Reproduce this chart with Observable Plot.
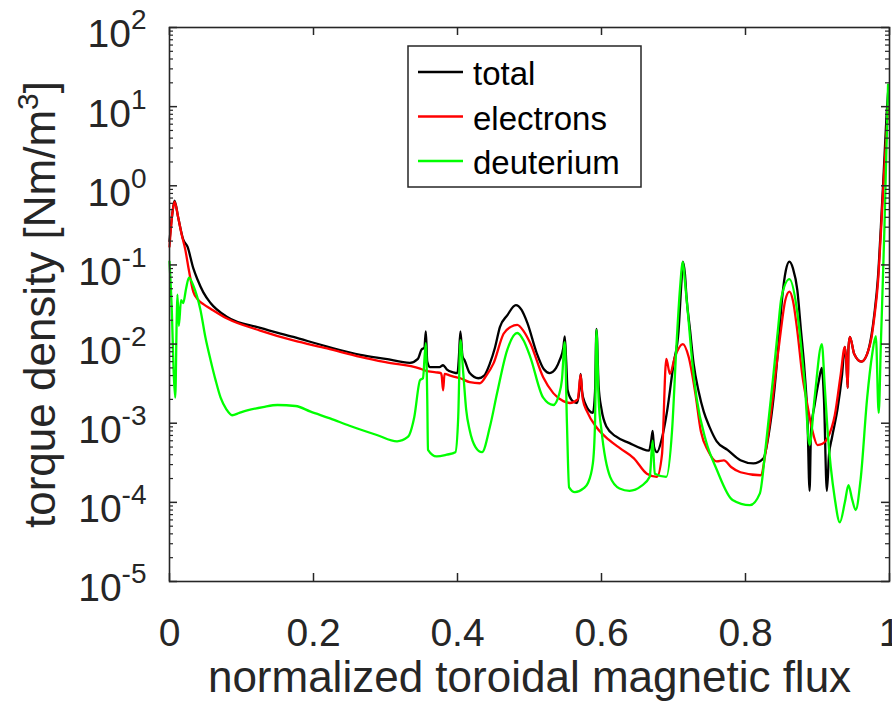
<!DOCTYPE html>
<html>
<head>
<meta charset="utf-8">
<script src="https://cdn.jsdelivr.net/npm/d3@7"></script>
<script src="https://cdn.jsdelivr.net/npm/@observablehq/plot@0.6"></script>
<style>
  html, body { margin: 0; padding: 0; background: #fff; }
  #chart { width: 892px; height: 702px; }
</style>
</head>
<body>
<div id="chart"></div>
<script>
// ---- data ----
const totalPsi = [0,0.004,0.007,0.012,0.019,0.025,0.033,0.039,0.047,0.057,0.08,0.126,0.172,0.219,0.265,0.3,0.334,0.345,0.35,0.354,0.356,0.358,0.362,0.375,0.38,0.385,0.394,0.4,0.402,0.404,0.407,0.41,0.417,0.429,0.437,0.445,0.452,0.459,0.469,0.481,0.489,0.497,0.51,0.52,0.528,0.537,0.542,0.547,0.549,0.551,0.553,0.56,0.566,0.569,0.571,0.573,0.577,0.588,0.591,0.593,0.596,0.6,0.607,0.62,0.639,0.655,0.666,0.669,0.671,0.673,0.677,0.684,0.691,0.7,0.707,0.711,0.713,0.716,0.718,0.723,0.728,0.735,0.742,0.75,0.76,0.775,0.793,0.811,0.825,0.832,0.839,0.845,0.851,0.856,0.861,0.866,0.872,0.877,0.882,0.886,0.889,0.891,0.896,0.902,0.906,0.909,0.913,0.916,0.92,0.928,0.934,0.938,0.94,0.942,0.943,0.945,0.951,0.961,0.969,0.975,0.979,0.984,0.988,0.992,0.996,0.998];
const totalVal = [0.2,0.45,0.65,0.4,0.21,0.17,0.091,0.065,0.045,0.033,0.022,0.016,0.0123,0.0093,0.0073,0.0065,0.0058,0.0065,0.0085,0.009,0.0145,0.006,0.0051,0.0051,0.0054,0.0048,0.0044,0.0043,0.007,0.0145,0.007,0.0062,0.0043,0.0037,0.004,0.0057,0.009,0.0165,0.023,0.031,0.027,0.0185,0.0077,0.0048,0.0043,0.005,0.0063,0.009,0.0125,0.006,0.0026,0.0019,0.0018,0.0025,0.0042,0.0025,0.0018,0.00135,0.0025,0.0155,0.003,0.0015,0.0009,0.00068,0.00056,0.00048,0.00045,0.0006,0.0008,0.0005,0.00043,0.00065,0.0014,0.0056,0.0146,0.06,0.11,0.075,0.04,0.015,0.0056,0.0025,0.0014,0.0009,0.00059,0.00046,0.00034,0.00031,0.00036,0.0007,0.0021,0.008,0.039,0.085,0.11,0.09,0.048,0.015,0.0046,0.0012,0.00014,0.0008,0.0017,0.0035,0.005,0.002,0.00014,0.0004,0.00065,0.00155,0.004,0.0092,0.006,0.0028,0.009,0.0123,0.0075,0.006,0.0075,0.013,0.024,0.07,0.3,1.5,8,15];

const electronsPsi = [0,0.004,0.007,0.012,0.017,0.022,0.027,0.033,0.04,0.047,0.057,0.08,0.126,0.172,0.219,0.265,0.3,0.348,0.356,0.37,0.377,0.378,0.38,0.382,0.39,0.399,0.404,0.417,0.431,0.44,0.45,0.464,0.474,0.483,0.492,0.501,0.519,0.533,0.547,0.556,0.567,0.571,0.574,0.58,0.593,0.61,0.626,0.645,0.663,0.677,0.684,0.69,0.695,0.702,0.713,0.721,0.73,0.738,0.748,0.76,0.77,0.78,0.793,0.821,0.829,0.835,0.842,0.849,0.855,0.861,0.866,0.872,0.879,0.886,0.893,0.9,0.907,0.914,0.924,0.932,0.938,0.94,0.942,0.943,0.945,0.951,0.961,0.969,0.975,0.979,0.984,0.988,0.992,0.998];
const electronsVal = [0.17,0.45,0.63,0.4,0.24,0.155,0.085,0.046,0.036,0.032,0.028,0.021,0.0148,0.0111,0.0088,0.0069,0.0059,0.0049,0.0046,0.0044,0.0043,0.004,0.0026,0.0042,0.004,0.0038,0.0037,0.0033,0.0032,0.004,0.0057,0.0135,0.0165,0.0175,0.0145,0.0103,0.0038,0.0024,0.0019,0.0018,0.002,0.0041,0.002,0.0014,0.00089,0.00062,0.00048,0.00036,0.00023,0.00021,0.0004,0.0065,0.0042,0.0069,0.01,0.0069,0.0025,0.00079,0.00045,0.00033,0.00034,0.00028,0.00024,0.00022,0.0005,0.00126,0.0045,0.0146,0.035,0.046,0.035,0.0146,0.004,0.0017,0.0008,0.00053,0.00055,0.00065,0.00126,0.004,0.0092,0.006,0.0028,0.009,0.0123,0.0075,0.006,0.0075,0.012,0.022,0.06,0.25,1.2,10];

const deuteriumPsi = [0,0.003,0.006,0.008,0.01,0.011,0.013,0.016,0.019,0.023,0.027,0.033,0.043,0.05,0.057,0.064,0.071,0.079,0.087,0.097,0.108,0.13,0.15,0.175,0.196,0.223,0.25,0.288,0.316,0.331,0.34,0.348,0.352,0.356,0.358,0.359,0.371,0.385,0.397,0.401,0.404,0.408,0.412,0.417,0.425,0.434,0.445,0.455,0.469,0.483,0.492,0.501,0.519,0.533,0.541,0.545,0.549,0.552,0.555,0.563,0.575,0.581,0.588,0.591,0.593,0.596,0.6,0.612,0.625,0.639,0.655,0.667,0.671,0.674,0.69,0.698,0.704,0.709,0.713,0.716,0.72,0.726,0.732,0.745,0.76,0.782,0.806,0.82,0.828,0.838,0.845,0.85,0.861,0.871,0.877,0.882,0.889,0.896,0.906,0.91,0.914,0.924,0.931,0.938,0.943,0.948,0.953,0.96,0.969,0.976,0.981,0.985,0.988,0.993,0.998];
const deuteriumVal = [0.11,0.03,0.004,0.0021,0.02,0.042,0.017,0.036,0.033,0.05,0.069,0.055,0.027,0.012,0.0063,0.0035,0.0021,0.0015,0.00126,0.00135,0.00145,0.0016,0.0017,0.00165,0.0014,0.00115,0.00093,0.00071,0.00059,0.00067,0.0012,0.0035,0.0037,0.0103,0.002,0.00046,0.00038,0.0004,0.00043,0.0012,0.0112,0.0043,0.0015,0.00081,0.0005,0.00043,0.0009,0.0024,0.0084,0.0138,0.011,0.0069,0.0021,0.0017,0.0023,0.0035,0.0106,0.001,0.000155,0.000135,0.00015,0.000174,0.00031,0.001,0.0151,0.002,0.00081,0.00021,0.00015,0.00014,0.00016,0.00021,0.0006,0.00023,0.00021,0.00081,0.0092,0.05,0.109,0.06,0.0247,0.006,0.0021,0.0006,0.00026,0.000107,0.000092,0.00013,0.0005,0.0035,0.015,0.039,0.066,0.029,0.01,0.0034,0.00053,0.0021,0.01,0.003,0.0008,0.000112,0.000056,0.0001,0.000165,0.00011,0.00008,0.0002,0.0021,0.0075,0.0126,0.00135,0.01,0.3,19];

const seriesNames = ["total", "electrons", "deuterium"];
const seriesColors = ["#000000", "#ff0000", "#00ff00"];

const xTicks = [0, 0.2, 0.4, 0.6, 0.8, 1];
const yTicks = [1e-5, 1e-4, 1e-3, 1e-2, 1e-1, 1e0, 1e1, 1e2];
const yMinor = yTicks.slice(0, -1).flatMap(d => [2,3,4,5,6,7,8,9].map(k => k * d));

const xTitle = "normalized toroidal magnetic flux";
const yTitle = "torque density [Nm/m^3]";

// ---- build tables ----
const toRows = (xs, ys, name) => xs.map((x, i) => ({psi: x, v: ys[i], series: name}));
const rows = [
  toRows(totalPsi, totalVal, "total"),
  toRows(electronsPsi, electronsVal, "electrons"),
  toRows(deuteriumPsi, deuteriumVal, "deuterium")
];

const W = 892, H = 702, ML = 169, MR = 3, MT = 27, MB = 121;
const innerW = W - ML - MR, innerH = H - MT - MB;
const axisColor = "#262626";
const font = "'Liberation Sans', Arial, Helvetica, sans-serif";

const svg = Plot.plot({
  width: W, height: H,
  marginLeft: ML, marginRight: MR, marginTop: MT, marginBottom: MB,
  x: {domain: [0, 1]},
  y: {type: "log", domain: [1e-5, 1e2]},
  style: {fontFamily: font, background: "#fff", color: axisColor, overflow: "visible"},
  marks: [
    // lines
    ...rows.map((r, i) => Plot.line(r, {x: "psi", y: "v", stroke: seriesColors[i], strokeWidth: 2.3, curve: "monotone-x"})),
    // inside ticks
    Plot.tickY(yTicks, {y: d => d, insetRight: innerW - 8, stroke: axisColor, strokeWidth: 1.5}),
    Plot.tickY(yTicks, {y: d => d, insetLeft: innerW - 8, stroke: axisColor, strokeWidth: 1.5}),
    Plot.tickY(yMinor, {y: d => d, insetRight: innerW - 4, stroke: axisColor, strokeWidth: 1.2}),
    Plot.tickY(yMinor, {y: d => d, insetLeft: innerW - 4, stroke: axisColor, strokeWidth: 1.2}),
    Plot.tickX(xTicks, {x: d => d, insetTop: innerH - 8, stroke: axisColor, strokeWidth: 1.5}),
    Plot.tickX(xTicks, {x: d => d, insetBottom: innerH - 8, stroke: axisColor, strokeWidth: 1.5}),
    Plot.frame({stroke: axisColor, strokeWidth: 1.6}),
    // axes (labels only)
    Plot.axisY(yTicks, {tickSize: 0, tickPadding: 23, fontSize: 39, dy: 7.5, label: null,
      tickFormat: d => "10^" + Math.round(Math.log10(d)), fill: axisColor}),
    Plot.axisX(xTicks, {tickSize: 0, tickPadding: 37, fontSize: 39, label: null,
      tickFormat: d => String(d), fill: axisColor}),
    // titles
    Plot.text([xTitle], {text: d => d, frameAnchor: "bottom", textAnchor: "middle", dy: 96, fontSize: 44, lineAnchor: "middle", fill: axisColor}),
    Plot.text([yTitle], {text: d => d, frameAnchor: "left", textAnchor: "middle", dx: -129, rotate: -90, fontSize: 44, lineAnchor: "middle", fill: axisColor})
  ]
});

// superscripts
const s = d3.select(svg);
s.selectAll("text").each(function () {
  const t = d3.select(this);
  const str = t.text();
  if (!str.includes("^")) return;
  if (str.startsWith("10^")) {
    const e = str.slice(3);
    t.text(null);
    t.append("tspan").text("10");
    t.append("tspan").attr("dy", -18).attr("font-size", 28).text(e);
  } else {
    const [a, rest] = str.split("^");
    t.text(null);
    t.append("tspan").text(a);
    t.append("tspan").attr("dy", -17).attr("font-size", 30).text(rest[0]);
    t.append("tspan").attr("dy", 17).text(rest.slice(1));
  }
});

// legend (inside the axes, top centre)
const lg = s.append("g").attr("font-family", font).attr("font-size", 33).attr("text-anchor", "start");
lg.append("rect").attr("x", 408).attr("y", 46).attr("width", 233).attr("height", 141)
  .attr("fill", "#fff").attr("stroke", axisColor).attr("stroke-width", 1.5);
seriesNames.forEach((n, i) => {
  const y = 72 + i * 44.5;
  lg.append("line").attr("x1", 418).attr("x2", 463).attr("y1", y).attr("y2", y)
    .attr("stroke", seriesColors[i]).attr("stroke-width", 2.3);
  lg.append("text").attr("x", 473).attr("y", y + 13).attr("fill", "#000").attr("text-anchor", "start").text(n);
});

document.getElementById("chart").appendChild(svg);
</script>
</body>
</html>
